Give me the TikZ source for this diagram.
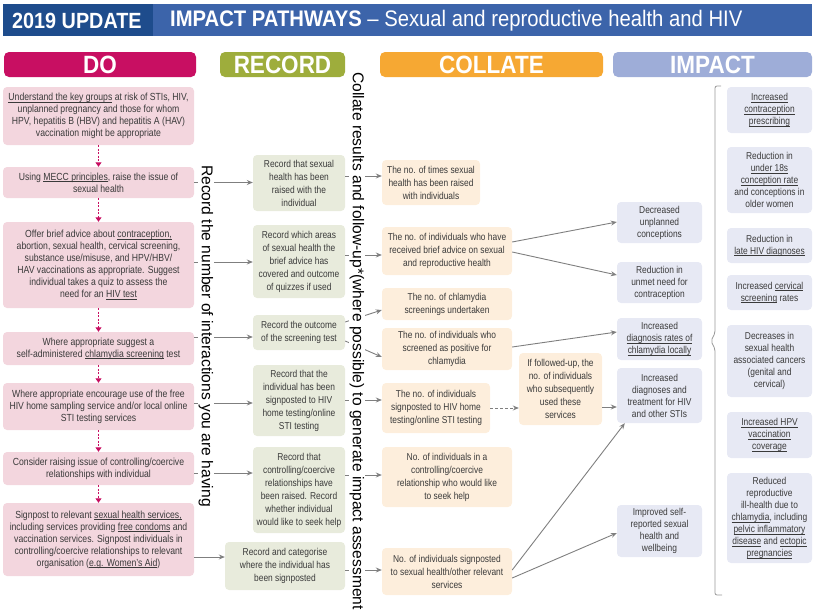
\documentclass[tikz,border=0pt]{standalone}
\usepackage{fontspec}
\setmainfont{Liberation Sans}[FakeStretch=0.84]
\newfontfamily\plainsans{Liberation Sans}
\newfontfamily\hdfont{Liberation Sans}[FakeStretch=0.9]
\usetikzlibrary{arrows.meta,calc}
\definecolor{hdark}{HTML}{1E4C8C}
\definecolor{hblue}{HTML}{3C64AA}
\definecolor{domag}{HTML}{C80F62}
\definecolor{dofill}{HTML}{F3D6DE}
\definecolor{recol}{HTML}{9EAD3C}
\definecolor{recfill}{HTML}{E8EBDC}
\definecolor{colcol}{HTML}{F6A833}
\definecolor{colfill}{HTML}{FDEEDC}
\definecolor{impcol}{HTML}{9EADD8}
\definecolor{impfill}{HTML}{E7E9F4}
\definecolor{arrgray}{HTML}{7F7F7F}
\definecolor{txt}{HTML}{3A3A3A}
\newsavebox\ulbox
\newcommand\ulx[1]{\leavevmode\sbox\ulbox{#1}\rlap{\rule[-1.5pt]{\wd\ulbox}{0.5pt}}\usebox\ulbox}
\begin{document}
\begin{tikzpicture}[x=1pt,y=-1pt,
  box/.style={rounded corners=4pt, align=center, inner sep=1pt, text=txt},
  dobox/.style={box, fill=dofill, minimum width=191pt, font=\fontsize{10.3}{12}\selectfont},
  recbox/.style={box, fill=recfill, font=\fontsize{10}{13}\selectfont},
  colbox/.style={box, fill=colfill, font=\fontsize{10}{13}\selectfont},
  impbox/.style={box, fill=impfill, minimum width=85pt, font=\fontsize{10}{12}\selectfont},
  pill/.style={rounded corners=5pt, minimum height=25pt, inner sep=0pt, text=white, font=\hdfont\bfseries\fontsize{25}{25}\selectfont},
  garr/.style={draw=arrgray, line width=0.9pt, -{Stealth[length=6pt,width=5pt]}},
  darr/.style={draw=domag, line width=0.9pt, dash pattern=on 2pt off 1.5pt, -{Triangle[length=4.5pt,width=6pt]}},
  vtext/.style={rotate=-90, fill=white, inner sep=1pt, text=black, font=\plainsans\fontsize{15.6}{15.6}\selectfont}
]
\useasboundingbox (0,0) rectangle (820,616);
% header
\node[fill=hdark, minimum width=150pt, minimum height=32pt, inner sep=0pt, anchor=north west] (hd) at (3,4) {};
\node[fill=hblue, minimum width=659pt, minimum height=32pt, inner sep=0pt, anchor=north west] (hb) at (153,4) {};
\node[anchor=west, inner sep=0pt, text=white, font=\hdfont\bfseries\fontsize{22}{22}\selectfont] (upd) at (12,20.5) {2019 UPDATE};
\node[anchor=west, inner sep=0pt, text=white, font=\hdfont\fontsize{22.5}{22.5}\selectfont] (title) at (170,20.5) {\textbf{IMPACT PATHWAYS} – Sexual and reproductive health and HIV};
% pills
\node[pill, fill=domag, minimum width=192pt] (pdo) at (100,64.5) {DO};
\node[pill, fill=recol, minimum width=125pt] (prec) at (282.5,64.5) {RECORD};
\node[pill, fill=colcol, minimum width=223pt] (pcol) at (491.5,64.5) {COLLATE};
\node[pill, fill=impcol, minimum width=199pt] (pimp) at (712.5,64.5) {IMPACT};
% DO
\node[dobox, minimum height=58pt] (do1) at (98.5,116) {\ulx{Understand the key groups} at risk of STIs, HIV,\\ unplanned pregnancy and those for whom\\ HPV, hepatitis B (HBV) and hepatitis A (HAV)\\ vaccination might be appropriate};
\node[dobox, minimum height=31pt] (do2) at (98.5,182.5) {Using \ulx{MECC principles}, raise the issue of\\ sexual health};
\node[dobox, minimum height=86pt] (do3) at (98.5,265) {Offer brief advice about \ulx{contraception,}\\ abortion, sexual health, cervical screening,\\ substance use/misuse, and HPV/HBV/\\ HAV vaccinations as appropriate. Suggest\\ individual takes a quiz to assess the\\ need for an \ulx{HIV test}};
\node[dobox, minimum height=33pt] (do4) at (98.5,348.5) {Where appropriate suggest a\\ self-administered \ulx{chlamydia screening} test};
\node[dobox, minimum height=47pt] (do5) at (98.5,406.5) {Where appropriate encourage use of the free\\ HIV home sampling service and/or local online\\ STI testing services};
\node[dobox, minimum height=33pt] (do6) at (98.5,468.5) {Consider raising issue of controlling/coercive\\ relationships with individual};
\node[dobox, minimum height=73pt] (do7) at (98.5,539.5) {Signpost to relevant \ulx{sexual health services,}\\ including services providing \ulx{free condoms} and\\ vaccination services. Signpost individuals in\\ controlling/coercive relationships to relevant\\ organisation (\ulx{e.g. Women’s Aid})};
% RECORD
\node[recbox, minimum width=92pt, minimum height=56pt] (rec1) at (299,183) {Record that sexual\\ health has been\\ raised with the\\ individual};
\node[recbox, minimum width=92pt, minimum height=73pt] (rec2) at (299,261.5) {Record which areas\\ of sexual health the\\ brief advice has\\ covered and outcome\\ of quizzes if used};
\node[recbox, minimum width=92pt, minimum height=35pt] (rec3) at (299,332.5) {Record the outcome\\ of the screening test};
\node[recbox, minimum width=92pt, minimum height=71pt] (rec4) at (299,400.5) {Record that the\\ individual has been\\ signposted to HIV\\ home testing/online\\ STI testing};
\node[recbox, minimum width=92pt, minimum height=86pt] (rec5) at (299,490) {Record that\\ controlling/coercive\\ relationships have\\ been raised. Record\\ whether individual\\ would like to seek help};
\node[recbox, minimum width=120pt, minimum height=48pt] (rec6) at (285,566) {Record and categorise\\ where the individual has\\ been signposted};
% COLLATE
\node[colbox, minimum width=98pt, minimum height=45pt] (col1) at (431,182.5) {The no. of times sexual\\ health has been raised\\ with individuals};
\node[colbox, minimum width=130pt, minimum height=48pt] (col2) at (447,251) {The no. of individuals who have\\ received brief advice on sexual\\ and reproductive health};
\node[colbox, minimum width=130pt, minimum height=32pt] (col3) at (447,304) {The no. of chlamydia\\ screenings undertaken};
\node[colbox, minimum width=130pt, minimum height=42pt] (col4) at (447,349) {The no. of individuals who\\ screened as positive for\\ chlamydia};
\node[colbox, minimum width=108pt, minimum height=50pt] (col5) at (436,408) {The no. of individuals\\ signposted to HIV home\\ testing/online STI testing};
\node[colbox, minimum width=83pt, minimum height=72pt] (follow) at (560.5,389) {If followed-up, the\\ no. of individuals\\ who subsequently\\ used these\\ services};
\node[colbox, minimum width=130pt, minimum height=60pt] (col6) at (447,477) {No. of individuals in a\\ controlling/coercive\\ relationship who would like\\ to seek help};
\node[colbox, minimum width=130pt, minimum height=47pt] (col7) at (447,571.5) {No. of individuals signposted\\ to sexual health/other relevant\\ services};
% IMPACT column 1
\node[impbox, minimum height=41pt] (imp1) at (659.5,222.5) {Decreased\\ unplanned\\ conceptions};
\node[impbox, minimum height=41pt] (imp2) at (659.5,282.5) {Reduction in\\ unmet need for\\ contraception};
\node[impbox, minimum height=42pt] (imp3) at (659.5,339) {Increased\\ \ulx{diagnosis rates of}\\ \ulx{chlamydia locally}};
\node[impbox, minimum height=55pt] (imp4) at (659.5,395.5) {Increased\\ diagnoses and\\ treatment for HIV\\ and other STIs};
\node[impbox, minimum height=52pt] (imp5) at (659.5,531) {Improved self-\\ reported sexual\\ health and\\ wellbeing};
% IMPACT column 2
\node[impbox, minimum height=46pt] (i1) at (769.5,110) {\ulx{Increased}\\ \ulx{contraception}\\ \ulx{prescribing}};
\node[impbox, minimum height=66pt] (i2) at (769.5,180) {Reduction in\\ \ulx{under 18s}\\ \ulx{conception rate}\\ and conceptions in\\ older women};
\node[impbox, minimum height=35pt] (i3) at (769.5,245.5) {Reduction in\\ \ulx{late HIV diagnoses}};
\node[impbox, minimum height=35pt] (i4) at (769.5,292.5) {Increased \ulx{cervical}\\ \ulx{screening} rates};
\node[impbox, minimum height=72pt] (i5) at (769.5,361) {Decreases in\\ sexual health\\ associated cancers\\ (genital and\\ cervical)};
\node[impbox, minimum height=46pt] (i6) at (769.5,435) {\ulx{Increased HPV}\\ \ulx{vaccination}\\ \ulx{coverage}};
\node[impbox, minimum height=90pt] (i7) at (769.5,518) {Reduced\\ reproductive\\ ill-health due to\\ \ulx{chlamydia}, including\\ \ulx{pelvic inflammatory}\\ \ulx{disease} and \ulx{ectopic}\\ \ulx{pregnancies}};
% brace
\draw[arrgray!80, line width=0.8pt, rounded corners=2pt] (721,86) -- (715,86) -- (715,333) -- (711,341) -- (715,349) -- (715,595) -- (722,595);
% DO chain
\foreach \a/\b in {do1/do2,do2/do3,do3/do4,do4/do5,do5/do6,do6/do7}
  \draw[darr] (\a.south) -- (\b.north);
% DO -> RECORD
\draw[garr] (do2.east) -- (do2.east -| rec1.west);
\draw[garr] (do3.east |- 0,262) -- (rec2.west |- 0,262);
\draw[garr] (do4.east |- 0,337) -- (rec3.west |- 0,337);
\draw[garr] (do5.east |- 0,403) -- (rec4.west |- 0,403);
\draw[garr] (do6.east |- 0,473) -- (rec5.west |- 0,473);
\draw[garr] (do7.east |- 0,557) -- (rec6.west |- 0,557);
% RECORD -> COLLATE
\draw[garr] (rec1.east |- 0,176) -- (col1.west |- 0,176);
\draw[garr] (rec2.east |- 0,255) -- (col2.west |- 0,255);
\draw[garr] (rec3.east |- 0,322) -- (col3.west |- 0,310);
\draw[garr] (rec3.east |- 0,341) -- (col4.west |- 0,357);
\draw[garr] (rec4.east |- 0,400) -- (col5.west |- 0,400);
\draw[garr] (rec5.east |- 0,475) -- (col6.west |- 0,475);
\draw[garr] (rec6.east |- 0,570) -- (col7.west |- 0,570);
% COLLATE -> IMPACT
\draw[garr] (col2.east |- 0,242) -- (imp1.west |- 0,222);
\draw[garr] (col2.east |- 0,252) -- (imp2.west |- 0,275);
\draw[garr] (col4.east |- 0,347) -- (imp3.west |- 0,332);
\draw[garr, dash pattern=on 3pt off 2pt] (col5.east) -- (col5.east -| follow.west);
\draw[garr] (follow.east |- 0,407) -- (imp4.west |- 0,407);
\draw[garr] (col7.east |- 0,570) -- ([xshift=8pt]imp4.south west);
\draw[garr] (col7.east |- 0,578) -- (imp5.west |- 0,533);
% vertical texts
\node[vtext] (vt1) at (206,336) {Record the number of interactions you are having};
\node[vtext] (vt2) at (357,341) {Collate results and follow-up*(where possible) to generate impact assessment};
\end{tikzpicture}
\end{document}
